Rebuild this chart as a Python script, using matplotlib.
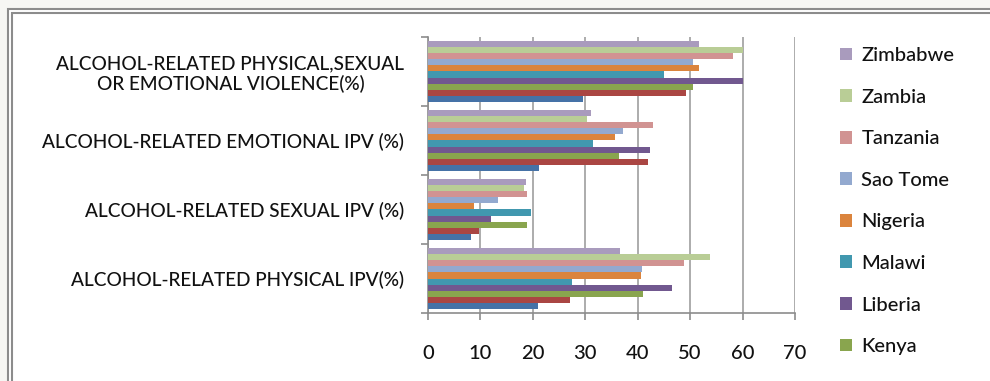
import numpy as np
import matplotlib.pyplot as plt
from matplotlib.patches import Rectangle, Patch

plt.rcParams['font.family'] = ['Lato', 'DejaVu Sans']
plt.rcParams['font.weight'] = 'medium'

categories = ['ALCOHOL-RELATED PHYSICAL IPV(%)',
              'ALCOHOL-RELATED SEXUAL IPV (%)',
              'ALCOHOL-RELATED EMOTIONAL IPV (%)',
              'ALCOHOL-RELATED PHYSICAL,SEXUAL\nOR EMOTIONAL VIOLENCE(%)']

# series in plotting order (bottom bar of each group first)
countries = ['Cameroon', 'Ghana', 'Kenya', 'Liberia', 'Malawi',
             'Nigeria', 'Sao Tome', 'Tanzania', 'Zambia', 'Zimbabwe']
cameroon = [21.0, 8.2, 21.2, 29.6]
ghana = [27.0, 9.7, 41.9, 49.2]
kenya = [41.1, 18.9, 36.4, 50.5]
liberia = [46.6, 12.0, 42.4, 60.1]
malawi = [27.5, 19.7, 31.5, 45.0]
nigeria = [40.6, 8.7, 35.6, 51.6]
sao_tome = [40.8, 13.4, 37.2, 50.5]
tanzania = [48.9, 18.9, 42.9, 58.1]
zambia = [53.7, 18.3, 30.4, 60.1]
zimbabwe = [36.6, 18.7, 31.0, 51.6]
values = [cameroon, ghana, kenya, liberia, malawi,
          nigeria, sao_tome, tanzania, zambia, zimbabwe]

colors = ['#4572A7', '#AA4643', '#89A54E', '#71588F', '#4198AF',
          '#DB843D', '#93A9CF', '#D19392', '#B9CD96', '#A99BBD']

fig = plt.figure(figsize=(9.9, 3.81), dpi=100)
fig.patch.set_facecolor('#F6F6F3')
# white chart area with double gray border
fig.patches.append(Rectangle((8 / 990, -0.1), 1.1, 1 - 9 / 381 + 0.1,
                             transform=fig.transFigure, facecolor='white',
                             edgecolor='#8C8C8C', linewidth=1.5, zorder=-10))
fig.patches.append(Rectangle((12 / 990, -0.1), 1.1, 1 - 13 / 381 + 0.1,
                             transform=fig.transFigure, facecolor='white',
                             edgecolor='#8C8C8C', linewidth=1.5, zorder=-10))

ax = fig.add_axes([428 / 990, 1 - 313 / 381, 367 / 990, 276 / 381])
ax.set_facecolor('none')

n = len(values)
h = 1 / (n + 1.3)
y = np.arange(len(categories))
for i, (vals, c) in enumerate(zip(values, colors)):
    ax.barh(y - n * h / 2 + (i + 0.5) * h, vals, height=h, color=c,
            linewidth=0, zorder=3)

ax.set_xlim(0, 70)
ax.set_ylim(-0.5, len(categories) - 0.5)
ax.set_xticks(np.arange(0, 71, 10))
ax.set_yticks(y)
ax.set_yticklabels(categories, multialignment='center', color='#111111')
ax.set_yticks(np.arange(-0.5, len(categories), 1), minor=True)
ax.tick_params(axis='y', which='major', length=0, pad=17, labelsize=13.7)
ax.tick_params(axis='y', which='minor', length=5, width=1.2, color='#8C8C8C')
ax.tick_params(axis='x', length=5, width=1.2, color='#8C8C8C', pad=18,
               labelsize=14.5, labelcolor='#111111')
ax.grid(axis='x', color='#A6A6A6', linewidth=1.3, zorder=0)
for s in ['top', 'right']:
    ax.spines[s].set_visible(False)
for s in ['left', 'bottom']:
    ax.spines[s].set_color('#8C8C8C')
    ax.spines[s].set_linewidth(1.2)

handles = [Patch(facecolor=colors[i], label=countries[i]) for i in range(n - 1, 1, -1)]
fig.legend(handles=handles, loc='upper left', bbox_to_anchor=(822 / 990, 1 - 29 / 381),
           frameon=False, fontsize=14.5, labelspacing=1.22, handlelength=0.6,
           handleheight=0.6, handletextpad=0.45, labelcolor='#111111')

fig.savefig('out.png', dpi=100, facecolor=fig.get_facecolor())
